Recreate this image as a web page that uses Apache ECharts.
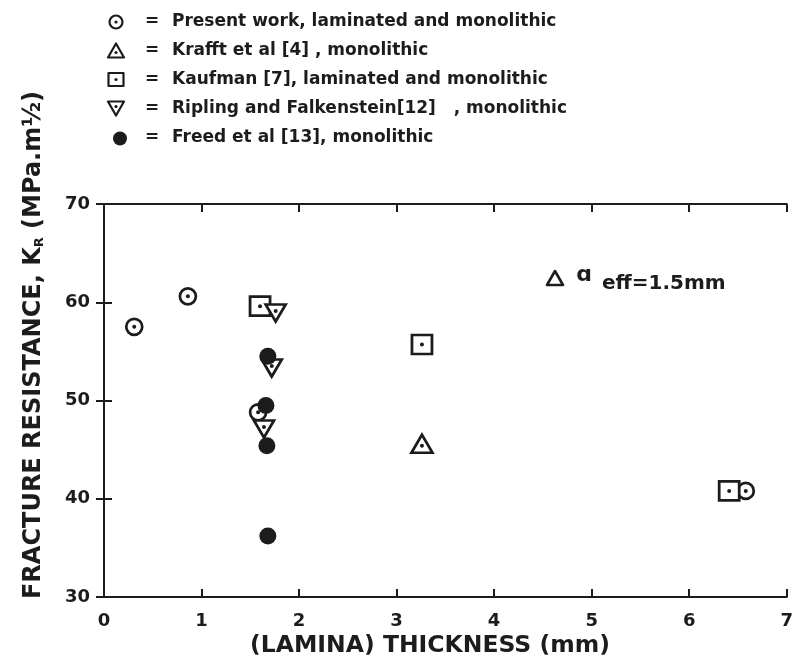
<!DOCTYPE html>
<html><head><meta charset="utf-8">
<script src="https://cdn.jsdelivr.net/npm/echarts@6/dist/echarts.min.js"></script>
<style>html,body{margin:0;padding:0;background:#fff}#c{width:796px;height:660px}</style>
</head><body><div id="c"></div>
<script>
// ---- data ----
const xTicks = [0, 1, 2, 3, 4, 5, 6, 7];
const yTicks = [30, 40, 50, 60, 70];
const presentWork = [[0.31, 57.5], [0.86, 60.6], [1.58, 48.8], [6.58, 40.8]];
const krafft = [[3.26, 45.6]];
const kaufman = [[1.60, 59.6], [3.26, 55.7], [6.41, 40.8]];
const ripling = [[1.76, 58.9], [1.72, 53.3], [1.64, 47.1]];
const freed = [[1.68, 54.5], [1.66, 49.5], [1.67, 45.4], [1.68, 36.2]];
const legendLabels = [
  'Present work, laminated and monolithic',
  'Krafft et al [4] , monolithic',
  'Kaufman [7], laminated and monolithic',
  'Ripling and Falkenstein[12]   , monolithic',
  'Freed et al [13], monolithic'
];
const xTitle = '(LAMINA) THICKNESS (mm)';
const annotation = ['ɑ', 'eff=1.5mm'];

// ---- style ----
const INK = '#1c1c1c';
const FONT = '"DejaVu Sans", "Liberation Sans", sans-serif';
const BW = 2.7;

function axisCommon(showLabel) {
  return {
    axisLine: { show: true, lineStyle: { color: INK, width: 2 } },
    axisTick: { show: true, inside: true, length: 8, lineStyle: { color: INK, width: 2 } },
    axisLabel: { show: showLabel, color: INK, fontSize: 18, fontWeight: 'bold', fontFamily: FONT },
    splitLine: { show: false }
  };
}

function openSeries(name, data, symbol, size, rotate) {
  return {
    name: name, type: 'scatter', data: data, symbol: symbol, symbolSize: size,
    symbolRotate: rotate || 0,
    itemStyle: { color: '#fff', borderColor: INK, borderWidth: BW, opacity: 1 },
    emphasis: { disabled: true }, silent: true
  };
}
function dotSeries(data, offY) {
  return {
    type: 'scatter', data: data, symbol: 'circle', symbolSize: 4,
    symbolOffset: [0, offY || 0],
    itemStyle: { color: INK, opacity: 1 }, emphasis: { disabled: true }, silent: true
  };
}

// legend graphics
const rowY = [22, 50.5, 79.5, 108.5, 137.5];
const symX = 116;
const legendGraphics = [];
function tri(cx, cy, w, h, down) {
  return down
    ? [[cx - w / 2, cy - h / 2], [cx + w / 2, cy - h / 2], [cx, cy + h / 2]]
    : [[cx - w / 2, cy + h / 2], [cx + w / 2, cy + h / 2], [cx, cy - h / 2]];
}
const lineStyle = { fill: '#fff', stroke: INK, lineWidth: 2.2, lineJoin: 'round' };
legendGraphics.push({ type: 'circle', shape: { cx: symX, cy: rowY[0], r: 6.5 }, style: lineStyle });
legendGraphics.push({ type: 'polygon', shape: { points: tri(symX, rowY[1], 16, 14, false) }, style: lineStyle });
legendGraphics.push({ type: 'rect', shape: { x: symX - 7.5, y: rowY[2] - 6.5, width: 15, height: 13 }, style: lineStyle });
legendGraphics.push({ type: 'polygon', shape: { points: tri(symX, rowY[3], 16, 14, true) }, style: lineStyle });
legendGraphics.push({ type: 'circle', shape: { cx: symX + 4, cy: rowY[4] + 1, r: 7 }, style: { fill: INK } });
[[rowY[0], 0], [rowY[1], 2], [rowY[2], 0], [rowY[3], -2]].forEach(function (p) {
  legendGraphics.push({ type: 'circle', shape: { cx: symX, cy: p[0] + p[1], r: 1.6 }, style: { fill: INK } });
});
legendLabels.forEach(function (t, i) {
  legendGraphics.push({ type: 'text', x: 152, y: rowY[i], style: { text: '=', font: 'bold 17px ' + FONT, fill: INK, textAlign: 'center', textVerticalAlign: 'middle', align: 'center', verticalAlign: 'middle' } });
  legendGraphics.push({ type: 'text', x: 172, y: rowY[i], style: { text: t, font: 'bold 17px ' + FONT, fill: INK, textAlign: 'left', textVerticalAlign: 'middle', align: 'left', verticalAlign: 'middle' } });
});

const chart = echarts.init(document.getElementById('c'), null, { renderer: 'canvas' });
chart.setOption({
  backgroundColor: '#fff',
  animation: false,
  grid: { left: 104, right: 6, top: 204, bottom: 63, containLabel: false },
  xAxis: [
    Object.assign({ type: 'value', min: xTicks[0], max: xTicks[xTicks.length - 1], interval: 1, position: 'bottom' }, axisCommon(true),
      { axisLabel: { show: true, color: INK, fontSize: 18, fontWeight: 'bold', fontFamily: FONT, margin: 15 } }),
    Object.assign({ type: 'value', min: xTicks[0], max: xTicks[xTicks.length - 1], interval: 1, position: 'top' }, axisCommon(false))
  ],
  yAxis: [
    Object.assign({ type: 'value', min: yTicks[0], max: yTicks[yTicks.length - 1], interval: 10, position: 'left' }, axisCommon(true),
      { axisLabel: { show: true, color: INK, fontSize: 18, fontWeight: 'bold', fontFamily: FONT, margin: 14 } }),
    Object.assign({ type: 'value', min: yTicks[0], max: yTicks[yTicks.length - 1], interval: 10, position: 'right' }, axisCommon(false))
  ],
  series: [
    openSeries('Present work', presentWork, 'circle', 16),
    dotSeries(presentWork),
    openSeries('Kaufman', kaufman, 'rect', [20, 19]),
    dotSeries(kaufman),
    openSeries('Krafft et al', krafft, 'triangle', [21, 18]),
    dotSeries(krafft, 2),
    openSeries('Ripling and Falkenstein', ripling, 'triangle', [20, 17], 180),
    dotSeries(ripling, -2),
    {
      name: 'Freed et al', type: 'scatter', data: freed, symbol: 'circle', symbolSize: 17,
      itemStyle: { color: INK, opacity: 1 }, emphasis: { disabled: true }, silent: true
    }
  ],
  graphic: legendGraphics.concat([
    {
      type: 'text', x: 34, y: 345, rotation: Math.PI / 2,
      style: {
        text: '{t|FRACTURE RESISTANCE, K}{s|R}{t| (MPa.m½)}',
        fill: INK, textAlign: 'center', textVerticalAlign: 'middle', align: 'center', verticalAlign: 'middle',
        rich: {
          t: { fontSize: 24, fontWeight: 'bold', fontFamily: FONT, fill: INK, color: INK },
          s: { fontSize: 13, fontWeight: 'bold', fontFamily: FONT, fill: INK, color: INK, verticalAlign: 'bottom' }
        }
      }
    },
    {
      type: 'text', x: 430, y: 646,
      style: { text: xTitle, font: 'bold 23.5px ' + FONT, fill: INK, textAlign: 'center', textVerticalAlign: 'middle', align: 'center', verticalAlign: 'middle' }
    },
    {
      type: 'polygon', shape: { points: tri(555, 278, 16, 14, false) },
      style: { fill: '#fff', stroke: INK, lineWidth: 2.6, lineJoin: 'round' }
    },
    {
      type: 'text', x: 584, y: 275,
      style: { text: annotation[0], font: 'bold 22px ' + FONT, fill: INK, textAlign: 'center', textVerticalAlign: 'middle', align: 'center', verticalAlign: 'middle' }
    },
    {
      type: 'text', x: 602, y: 284,
      style: { text: annotation[1], font: 'bold 20px ' + FONT, fill: INK, textAlign: 'left', textVerticalAlign: 'middle', align: 'left', verticalAlign: 'middle' }
    }
  ])
});
</script>
</body></html>
